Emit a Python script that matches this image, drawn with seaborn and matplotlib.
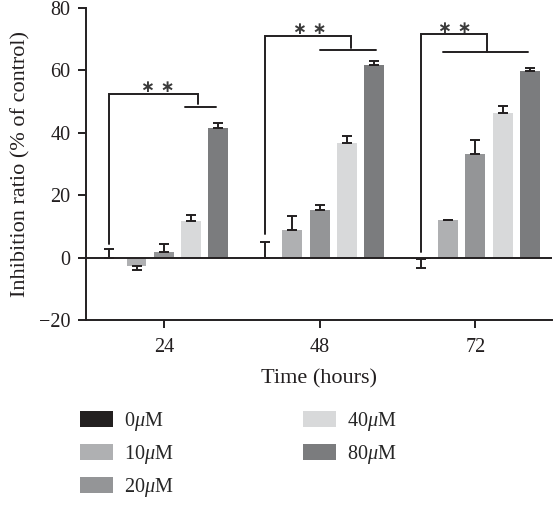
import numpy as np
import pandas as pd
import matplotlib
matplotlib.use("Agg")
import matplotlib.pyplot as plt
import seaborn as sns

# data
times = ["24", "48", "72"]
concs = ["0$\\mu$M", "10$\\mu$M", "20$\\mu$M", "40$\\mu$M", "80$\\mu$M"]
colors = ["#231f20", "#afb0b2", "#949597", "#d8d9da", "#7b7c7e"]

vals_0 = [0.0, 0.0, -0.6]
vals_10 = [-2.7, 8.7, 11.9]
vals_20 = [1.7, 15.3, 33.1]
vals_40 = [11.7, 36.6, 46.5]
vals_80 = [41.4, 61.6, 59.8]

err_0 = [2.9, 5.1, 2.8]
err_10 = [1.4, 4.7, 0.2]
err_20 = [2.8, 1.7, 4.6]
err_40 = [2.1, 2.3, 2.1]
err_80 = [1.7, 1.4, 1.0]

# significance brackets (relative to group centre)
br_low = [4.5, 7.7, 1.8]
br_top = [52.4, 71.1, 71.6]
br_drop_x = [0.22, 0.2, 0.072]
br_drop_y = [49.2, 67.2, 65.8]
bar_line_y = [48.2, 66.5, 65.9]
bar_line_x0 = [0.135, 0.0, -0.21]
bar_line_x1 = [0.338, 0.363, 0.34]
star_x = [-0.04, -0.064, -0.135]
star_y = [54.6, 73.4, 73.7]

all_vals = [vals_0, vals_10, vals_20, vals_40, vals_80]
all_errs = [err_0, err_10, err_20, err_40, err_80]

rows = []
for c, v, e in zip(concs, all_vals, all_errs):
    for t, vi, ei in zip(times, v, e):
        rows.append({"time": t, "conc": c, "value": vi, "err": ei})
df = pd.DataFrame(rows)

sns.set_style("ticks")
plt.rcParams["font.family"] = ["Liberation Serif", "DejaVu Serif"]
plt.rcParams["mathtext.fontset"] = "custom"
plt.rcParams["mathtext.rm"] = "Liberation Serif"
plt.rcParams["mathtext.it"] = "Liberation Serif:italic"
ink = "#231f20"

fig = plt.figure(figsize=(5.54, 5.19), dpi=100)
ax = fig.add_axes([0.155, 0.3834, 0.841, 0.6012])

sns.barplot(data=df, x="time", y="value", hue="conc", hue_order=concs,
            palette=colors, width=0.875, gap=0.27, errorbar=None,
            linewidth=0, ax=ax)

# one-sided error bars
for cont, c in zip(ax.containers, concs):
    sub = df[df["conc"] == c]
    for bar, (_, r) in zip(cont.patches, sub.iterrows()):
        xc = bar.get_x() + bar.get_width() / 2
        if r["value"] < 0:
            yerr = [[r["err"]], [0]]
        else:
            yerr = [[0], [r["err"]]]
        ax.errorbar(xc, r["value"], yerr=yerr, fmt="none", ecolor=ink,
                    elinewidth=1.4, capsize=3.6, capthick=1.4, zorder=3)

ax.axhline(0, color=ink, lw=1.4, zorder=4)

for i in range(3):
    x0 = i - 0.35
    xd = i + br_drop_x[i]
    ax.plot([x0, x0, xd, xd], [br_low[i], br_top[i], br_top[i], br_drop_y[i]],
            color=ink, lw=1.4, solid_joinstyle="miter")
    ax.plot([i + bar_line_x0[i], i + bar_line_x1[i]], [bar_line_y[i]] * 2,
            color=ink, lw=1.4)
    ax.text(i + star_x[i], star_y[i], "∗ ∗", ha="center", va="center",
            fontsize=12, fontweight="bold", family="DejaVu Sans", color="#3a3a3a")

ax.set_xlim(-0.5, 2.49)
ax.set_ylim(-20, 80)
ax.set_yticks([-20, 0, 20, 40, 60, 80])
ax.set_yticklabels(["\u221220", "0", "20", "40", "60", "80"])
for s in ["top", "right"]:
    ax.spines[s].set_visible(False)
for s in ["left", "bottom"]:
    ax.spines[s].set_linewidth(1.4)
    ax.spines[s].set_color(ink)
ax.tick_params(axis="both", length=6, width=1.4, color=ink, labelsize=14.5,
               labelcolor=ink)
ax.tick_params(axis="x", pad=7)
ax.tick_params(axis="y", pad=5)
ax.set_xlabel("Time (hours)", fontsize=16, color=ink, labelpad=9)
ax.set_ylabel("Inhibition ratio (% of control)", fontsize=16, color=ink, labelpad=6)

sns.move_legend(ax, "upper left", bbox_to_anchor=(80 / 554, 1 - 410 / 519),
                bbox_transform=fig.transFigure, ncol=2, frameon=False, title=None,
                fontsize=14.5, handlelength=1.64, handleheight=0.85,
                handletextpad=0.55, labelspacing=0.5, columnspacing=6.4,
                borderpad=0, borderaxespad=0)

plt.savefig("out.png", dpi=100)
